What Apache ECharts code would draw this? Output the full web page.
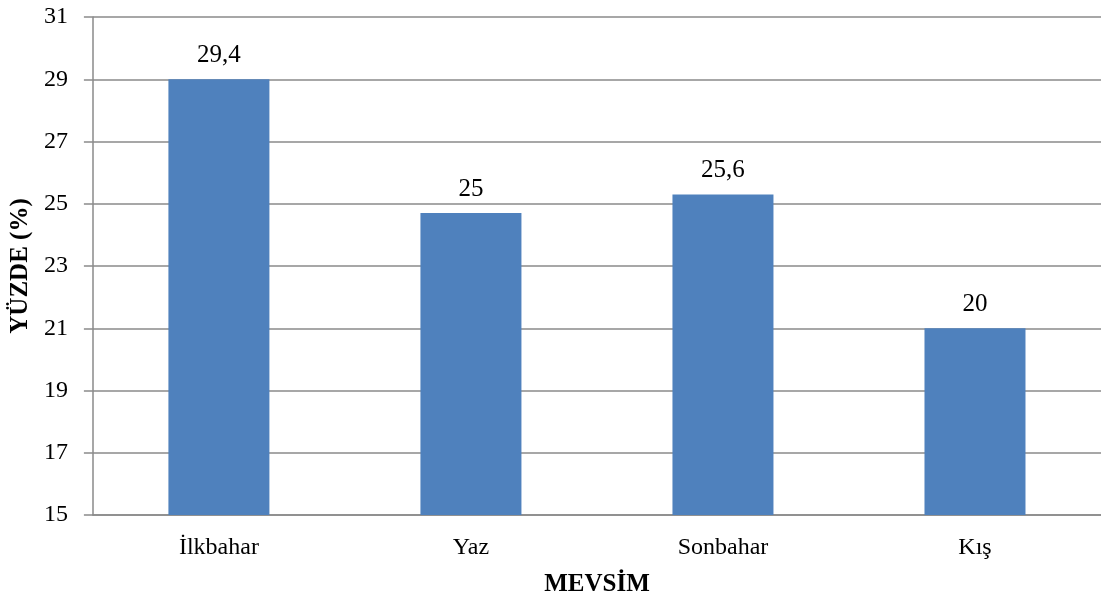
<!DOCTYPE html>
<html>
<head>
<meta charset="utf-8">
<script src="https://cdn.jsdelivr.net/npm/echarts@6/dist/echarts.min.js"></script>
<style>html,body{margin:0;padding:0;background:#fff}#c{width:1101px;height:604px}</style>
</head>
<body>
<div id="c"></div>
<script>
const categories = ['İlkbahar', 'Yaz', 'Sonbahar', 'Kış'];
const barValues = [29.0, 24.7, 25.3, 21.0];
const dataLabels = ['29,4', '25', '25,6', '20'];
const yMin = 15, yMax = 31, yStep = 2;

const chart = echarts.init(document.getElementById('c'), null, {renderer: 'canvas'});
const font = '"Liberation Serif", "Times New Roman", serif';
chart.setOption({
  animation: false,
  grid: {left: 92, right: 0, top: 17, bottom: 89},
  xAxis: {
    type: 'category',
    data: categories,
    name: 'MEVSİM',
    nameLocation: 'middle',
    nameGap: 57,
    nameTextStyle: {fontFamily: font, fontSize: 25, fontWeight: 'bold', color: '#000'},
    axisLine: {lineStyle: {color: '#8a8a8a', width: 1.5}},
    axisTick: {show: false},
    axisLabel: {fontFamily: font, fontSize: 24, color: '#000', margin: 21}
  },
  yAxis: {
    type: 'value',
    min: yMin, max: yMax, interval: yStep,
    name: 'YÜZDE (%)',
    nameLocation: 'middle',
    nameGap: 55,
    nameRotate: 90,
    nameTextStyle: {fontFamily: font, fontSize: 25, fontWeight: 'bold', color: '#000'},
    axisLine: {show: true, lineStyle: {color: '#8a8a8a', width: 1.5}},
    axisTick: {show: true, length: 9, lineStyle: {color: '#8a8a8a', width: 1.5}},
    axisLabel: {fontFamily: font, fontSize: 24, color: '#000', margin: 25},
    splitLine: {show: true, lineStyle: {color: '#8a8a8a', width: 1.5}}
  },
  series: [{
    type: 'bar',
    data: barValues,
    barWidth: 101,
    itemStyle: {color: '#4F81BD'},
    label: {
      show: true,
      position: 'top',
      distance: 11,
      fontFamily: font,
      fontSize: 25,
      color: '#000',
      formatter: p => dataLabels[p.dataIndex]
    }
  }]
});
</script>
</body>
</html>
